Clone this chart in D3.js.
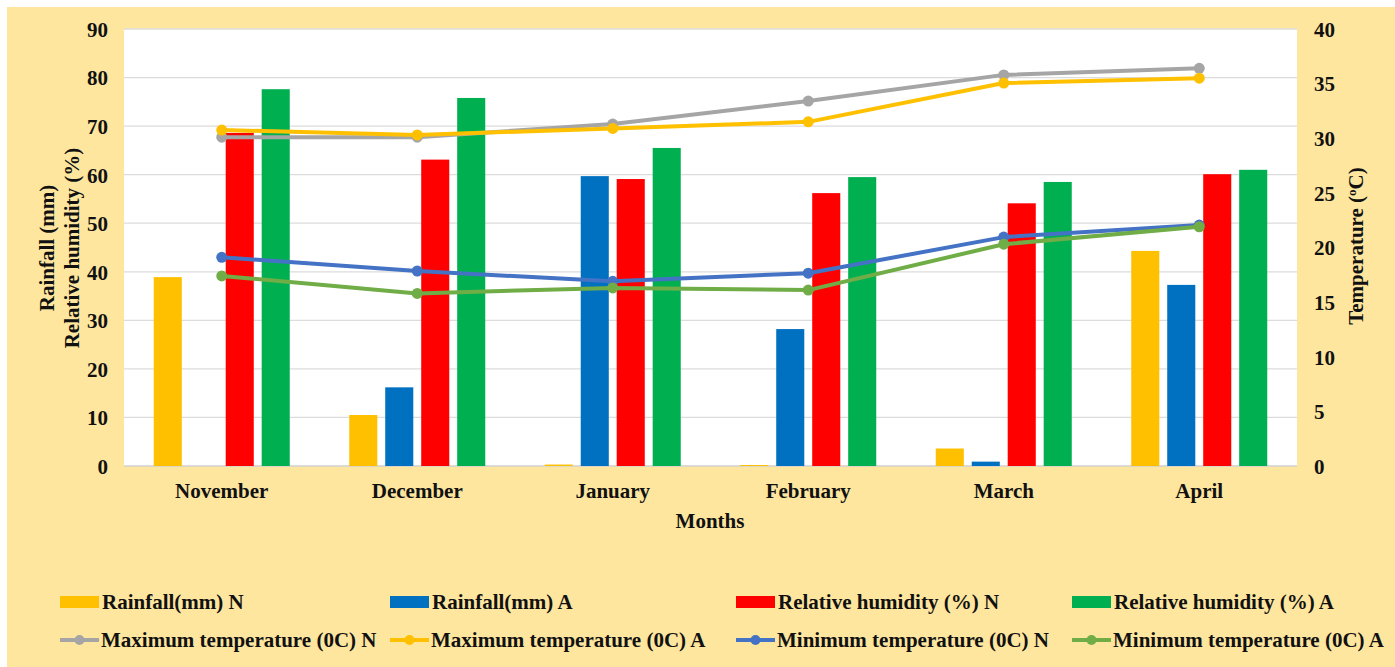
<!DOCTYPE html>
<html>
<head>
<meta charset="utf-8">
<script src="https://cdn.jsdelivr.net/npm/d3@7"></script>
<style>
  body { margin: 0; background: #fff; }
  svg text { font-family: "Liberation Serif", "Times New Roman", serif; font-weight: bold; fill: #111; }
</style>
</head>
<body>
<svg id="chart" width="1395" height="667"></svg>
<script>
// data
var months = ["November", "December", "January", "February", "March", "April"];
var rainN = [38.9, 10.5, 0.3, 0.2, 3.6, 44.3];
var rainA = [0, 16.2, 59.7, 28.2, 0.9, 37.3];
var rhN = [68.6, 63.1, 59.1, 56.2, 54.1, 60.1];
var rhA = [77.6, 75.8, 65.5, 59.5, 58.5, 61.0];
var maxN = [30.1, 30.1, 31.3, 33.4, 35.8, 36.4];
var maxA = [30.75, 30.3, 30.9, 31.5, 35.05, 35.5];
var minN = [19.1, 17.85, 16.9, 17.65, 20.95, 22.05];
var minA = [17.4, 15.8, 16.3, 16.1, 20.3, 21.9];
var leftTicks = [0, 10, 20, 30, 40, 50, 60, 70, 80, 90];
var rightTicks = [0, 5, 10, 15, 20, 25, 30, 35, 40];

var barSeries = [
  {name: "Rainfall(mm) N", values: rainN, color: "#FFC000"},
  {name: "Rainfall(mm) A", values: rainA, color: "#0070C0"},
  {name: "Relative humidity (%) N", values: rhN, color: "#FF0000"},
  {name: "Relative humidity (%) A", values: rhA, color: "#00B050"}
];
var lineSeries = [
  {name: "Maximum temperature (0C) N", values: maxN, color: "#A5A5A5"},
  {name: "Maximum temperature (0C) A", values: maxA, color: "#FFC000"},
  {name: "Minimum temperature (0C) N", values: minN, color: "#4472C4"},
  {name: "Minimum temperature (0C) A", values: minA, color: "#70AD47"}
];

var svg = d3.select("#chart");
var plot = {left: 124, right: 1297, top: 29, bottom: 466};
var fs = "21px";

// golden panel
svg.append("rect").attr("x", 7).attr("y", 7).attr("width", 1395).attr("height", 667).attr("fill", "#FEE69F");
svg.append("rect").attr("x", plot.left).attr("y", plot.top)
  .attr("width", plot.right - plot.left).attr("height", plot.bottom - plot.top).attr("fill", "#fff");

var x = d3.scaleBand().domain(months).range([plot.left, plot.right]).paddingInner(0).paddingOuter(0);
var xs = d3.scaleBand().domain(d3.range(4)).range([0, 136]).paddingInner(0.22).paddingOuter(0);
var yL = d3.scaleLinear().domain([0, 90]).range([plot.bottom, plot.top]);
var yR = d3.scaleLinear().domain([0, 40]).range([plot.bottom, plot.top]);

// gridlines
svg.append("g").selectAll("line").data(leftTicks).enter().append("line")
  .attr("x1", plot.left).attr("x2", plot.right)
  .attr("y1", d => yL(d)).attr("y2", d => yL(d))
  .attr("stroke", d => d === 0 ? "#D0D0D0" : "#DCDCDC").attr("stroke-width", 1.3);

// axes (text only, like Excel)
var gl = svg.append("g").attr("transform", "translate(" + (plot.left - 16) + ",0)")
  .call(d3.axisLeft(yL).tickValues(leftTicks).tickSize(0).tickPadding(0));
gl.select(".domain").remove();
gl.selectAll("text").style("font-size", fs).attr("dy", "0.35em");

var gr = svg.append("g").attr("transform", "translate(" + (plot.right + 17) + ",0)")
  .call(d3.axisRight(yR).tickValues(rightTicks).tickSize(0).tickPadding(0));
gr.select(".domain").remove();
gr.selectAll("text").style("font-size", fs).attr("dy", "0.35em");

var gx = svg.append("g").attr("transform", "translate(0," + (plot.bottom + 25) + ")")
  .call(d3.axisBottom(x).tickSize(0).tickPadding(0));
gx.select(".domain").remove();
gx.selectAll("text").style("font-size", fs).attr("dy", "0.35em");

// bars
var groups = svg.append("g").selectAll("g").data(months).enter().append("g")
  .attr("transform", d => "translate(" + (x(d) + x.bandwidth() / 2 - 68) + ",0)");
groups.selectAll("rect").data((m, i) => barSeries.map((s, k) => ({k: k, v: s.values[i], c: s.color})))
  .enter().append("rect")
  .attr("x", d => xs(d.k)).attr("width", xs.bandwidth())
  .attr("y", d => yL(d.v)).attr("height", d => yL(0) - yL(d.v))
  .attr("fill", d => d.c);

// lines
var line = d3.line().x((d, i) => x(months[i]) + x.bandwidth() / 2).y(d => yR(d));
lineSeries.forEach(function(s) {
  svg.append("path").datum(s.values).attr("d", line)
    .attr("fill", "none").attr("stroke", s.color).attr("stroke-width", 4).attr("stroke-linejoin", "round");
  svg.append("g").selectAll("circle").data(s.values).enter().append("circle")
    .attr("cx", (d, i) => x(months[i]) + x.bandwidth() / 2).attr("cy", d => yR(d))
    .attr("r", 5.5).attr("fill", s.color);
});

// axis titles
var lt = svg.append("text").attr("transform", "translate(54,248) rotate(-90)")
  .attr("text-anchor", "middle").style("font-size", fs);
lt.append("tspan").attr("x", 0).attr("dy", 0).text("Rainfall (mm)");
lt.append("tspan").attr("x", 0).attr("dy", "1.2em").text("Relative humidity (%)");

var rt = svg.append("text").attr("transform", "translate(1363,246) rotate(-90)")
  .attr("text-anchor", "middle").style("font-size", fs);
rt.append("tspan").text("Temperature (");
rt.append("tspan").attr("baseline-shift", "super").style("font-size", "13px").text("o");
rt.append("tspan").text("C)");

svg.append("text").attr("x", 710).attr("y", 528).attr("text-anchor", "middle")
  .style("font-size", fs).text("Months");

// legend
var legX = [60, 390, 736, 1072];
var leg = svg.append("g");
barSeries.forEach(function(s, i) {
  leg.append("rect").attr("x", legX[i]).attr("y", 596).attr("width", 39).attr("height", 12).attr("fill", s.color);
  leg.append("text").attr("x", legX[i] + 42).attr("y", 609).style("font-size", fs).text(s.name);
});
lineSeries.forEach(function(s, i) {
  leg.append("line").attr("x1", legX[i]).attr("x2", legX[i] + 39).attr("y1", 640).attr("y2", 640)
    .attr("stroke", s.color).attr("stroke-width", 4);
  leg.append("circle").attr("cx", legX[i] + 19.5).attr("cy", 640).attr("r", 5).attr("fill", s.color);
  leg.append("text").attr("x", legX[i] + 41).attr("y", 647).style("font-size", fs).text(s.name);
});
</script>
</body>
</html>
